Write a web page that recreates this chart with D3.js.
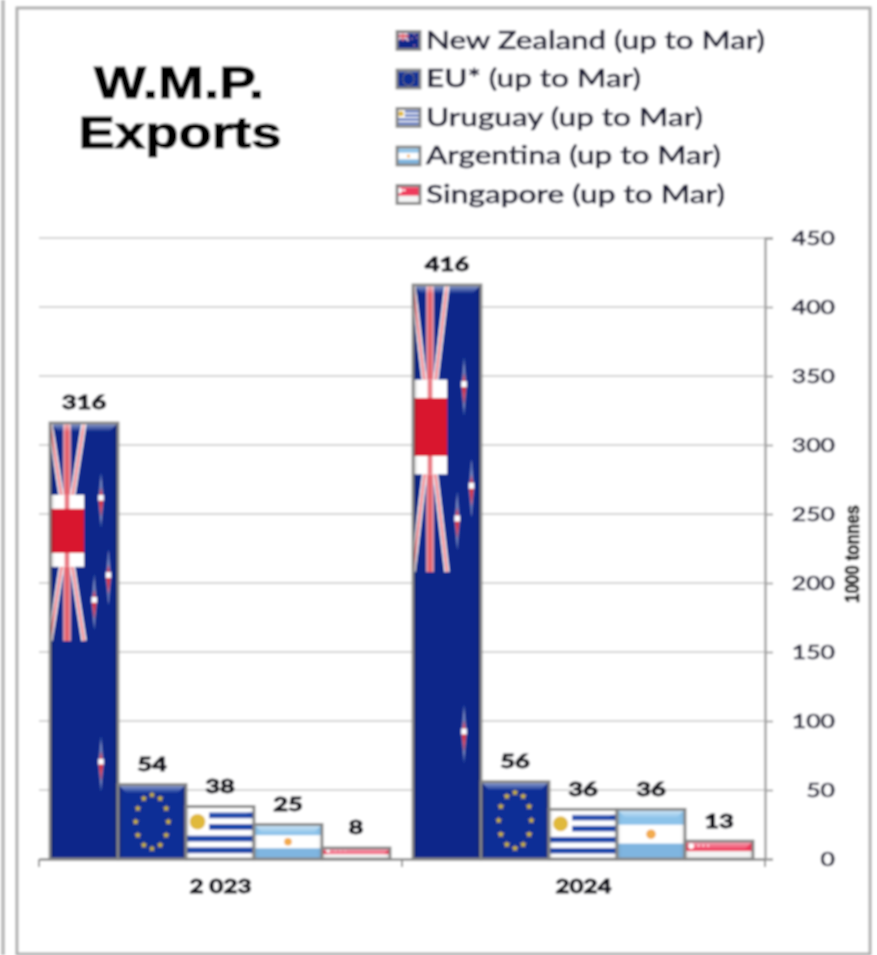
<!DOCTYPE html>
<html><head><meta charset="utf-8">
<script src="https://cdn.jsdelivr.net/npm/d3@7"></script>
<style>html,body{margin:0;padding:0;background:#fff}svg{display:block}text{font-family:Lato,"Noto Sans",sans-serif}</style>
</head><body>
<svg id="c" width="877" height="955"></svg>
<script>
const years = ["2 023", "2024"];
const countries = ["New Zealand", "EU*", "Uruguay", "Argentina", "Singapore"];
const flagKeys = ["nz", "eu", "uy", "ar", "sg"];
const values2023 = [316, 54, 38, 25, 8];
const values2024 = [416, 56, 36, 36, 13];
const yTicks = [0, 50, 100, 150, 200, 250, 300, 350, 400, 450];
const legendSuffix = " (up to Mar)";
const legendWidths = [339, 215, 277, 295, 299];
const series = [values2023, values2024];

const svg = d3.select("#c");
const defs = svg.append("defs");
defs.append("filter").attr("id", "soft").attr("x", "-2%").attr("y", "-2%").attr("width", "104%").attr("height", "104%")
  .append("feGaussianBlur").attr("stdDeviation", 0.9);
const lg = defs.append("linearGradient").attr("id", "edge");
[[0, "#000", .3], [.07, "#000", .0], [.93, "#000", 0], [1, "#000", .3]].forEach(s =>
  lg.append("stop").attr("offset", s[0]).attr("stop-color", s[1]).attr("stop-opacity", s[2]));
const tg = defs.append("linearGradient").attr("id", "topb").attr("x1", 0).attr("x2", 0).attr("y1", 0).attr("y2", 1);
[[0, .6], [1, .08]].forEach(s => tg.append("stop").attr("offset", s[0]).attr("stop-color", "#fff").attr("stop-opacity", s[1]));

const root = svg.append("g").attr("filter", "url(#soft)");

// frame
root.append("rect").attr("x", 17).attr("y", 8).attr("width", 853).attr("height", 946)
  .attr("fill", "#fff").attr("stroke", "#b0b0b0").attr("stroke-width", 3);
root.append("line").attr("x1", 3).attr("x2", 3).attr("y1", 0).attr("y2", 955).attr("stroke", "#b8b8b8").attr("stroke-width", 3.5);

const plotLeft = 39, plotRight = 765, plotTop = 238, plotBottom = 859;
const y = d3.scaleLinear().domain([0, 450]).range([plotBottom, plotTop]);
const x0 = d3.scaleBand().domain(years).range([plotLeft, plotRight]);
const x1 = d3.scaleBand().domain(countries).range([11, 351]);

const fit = (sel, w) => sel.attr("textLength", w).attr("lengthAdjust", "spacingAndGlyphs");

// gridlines
root.append("g").selectAll("line").data(yTicks.filter(d => d > 0)).join("line")
  .attr("x1", plotLeft).attr("x2", plotRight).attr("y1", y).attr("y2", y)
  .attr("stroke", "#d4d4d4").attr("stroke-width", 2);

// flags
function star(g, cx, cy, size, fill) {
  g.append("path").attr("transform", `translate(${cx},${cy})`)
    .attr("d", d3.symbol(d3.symbolStar, size)()).attr("fill", fill);
}
function nzStar(g, cx, cy, w, h) {
  const hw = Math.max(w * .04, .8), hh = Math.min(h * .065, 30);
  g.append("path").attr("d", `M${cx},${cy - hh}L${cx + hw},${cy}L${cx},${cy + hh}L${cx - hw},${cy}Z`)
    .attr("fill", "#b9c2e0").attr("opacity", .6);
  g.append("path").attr("d", `M${cx},${cy - hh * .45}L${cx + hw * .8},${cy}L${cx},${cy + hh * .6}L${cx - hw * .8},${cy}Z`)
    .attr("fill", "#d8323f");
  g.append("rect").attr("x", cx - hw).attr("y", cy - hh * .18).attr("width", 2 * hw).attr("height", hh * .2).attr("fill", "#fff");
}
const flags = {
  nz(g, w, h) {
    g.append("rect").attr("width", w).attr("height", h).attr("fill", "#07278a");
    const uw = w * .5, uh = h * .5;
    [[0, 0, uw * .5, uh * .5], [uw, 0, uw * .5, uh * .5], [0, uh, uw * .5, uh * .5], [uw, uh, uw * .5, uh * .5]].forEach(d => {
      g.append("line").attr("x1", d[0]).attr("y1", d[1]).attr("x2", d[2]).attr("y2", d[3]).attr("stroke", "#fff").attr("stroke-width", w * .075);
      g.append("line").attr("x1", d[0]).attr("y1", d[1]).attr("x2", d[2]).attr("y2", d[3]).attr("stroke", "#ea5a68").attr("stroke-width", w * .03);
    });
    g.append("rect").attr("x", uw * .5 - w * .055).attr("width", w * .11).attr("height", uh).attr("fill", "#f3b7be");
    g.append("rect").attr("x", uw * .5 - w * .035).attr("width", w * .07).attr("height", uh).attr("fill", "#e4606c");
    g.append("rect").attr("y", h * .165).attr("width", uw).attr("height", h * .165).attr("fill", "#fff");
    g.append("rect").attr("x", uw * .5 - w * .035).attr("y", h * .165).attr("width", w * .07).attr("height", h * .165).attr("fill", "#ea7a85");
    g.append("rect").attr("y", h * .197).attr("width", uw).attr("height", h * .101).attr("fill", "#d9162e");
    [[.75, .177], [.86, .354], [.65, .411], [.75, .782]].forEach(s => nzStar(g, s[0] * w, s[1] * h, w, h));
  },
  eu(g, w, h) {
    g.append("rect").attr("width", w).attr("height", h).attr("fill", "#0b2f96");
    d3.range(12).forEach(i => {
      const a = i / 12 * 2 * Math.PI;
      star(g, w / 2 + Math.sin(a) * w * .24, h / 2 - Math.cos(a) * h * .36, Math.max(w * h * .0032, .5), "#d4b832");
    });
  },
  uy(g, w, h) {
    g.append("rect").attr("width", w).attr("height", h).attr("fill", "#fff");
    [1, 3, 5, 7].forEach(i => g.append("rect")
      .attr("x", i < 5 ? w * .34 : 0).attr("y", h * i / 9).attr("width", i < 5 ? w * .66 : w).attr("height", h / 9).attr("fill", "#1f48ac"));
    g.append("circle").attr("cx", w * .17).attr("cy", h * .29).attr("r", Math.min(w * .115, h * .15)).attr("fill", "#e0b93a");
  },
  ar(g, w, h) {
    g.append("rect").attr("width", w).attr("height", h).attr("fill", "#fff");
    g.append("rect").attr("width", w).attr("height", h * .31).attr("fill", "#8cc3ea");
    g.append("rect").attr("y", h * .69).attr("width", w).attr("height", h * .31).attr("fill", "#7fb5e0");
    g.append("circle").attr("cx", w * .5).attr("cy", h * .5).attr("r", Math.min(w * .07, h * .11)).attr("fill", "#f2ab4e");
  },
  sg(g, w, h) {
    g.append("rect").attr("width", w).attr("height", h).attr("fill", "#f4f4f4");
    g.append("rect").attr("width", w).attr("height", h * .56).attr("fill", "#ef3a5c");
    g.append("circle").attr("cx", w * .09).attr("cy", h * .28).attr("r", h * .16).attr("fill", "#fff");
    [.2, .27, .34].forEach(f => g.append("circle").attr("cx", w * f).attr("cy", h * .26).attr("r", h * .05).attr("fill", "#fff"));
  }
};
function flagBox(parent, key, bx, by, w, h, id, bevel) {
  const g = parent.append("g").attr("transform", `translate(${bx},${by})`);
  defs.append("clipPath").attr("id", id).append("rect").attr("width", w).attr("height", h);
  const inner = g.append("g").attr("clip-path", `url(#${id})`);
  flags[key](inner, w, h);
  inner.append("rect").attr("width", w).attr("height", h).attr("fill", "url(#edge)").attr("opacity", key === "nz" || key === "eu" ? 1 : .35);
  inner.append("path").attr("d", `M0,0H${w}L${w - bevel},${bevel}H${bevel}Z`).attr("fill", "url(#topb)");
  g.append("rect").attr("width", w).attr("height", h).attr("fill", "none").attr("stroke", "#858585").attr("stroke-width", 2.8);
}

// bars
years.forEach((yr, yi) => {
  const grp = root.append("g").attr("transform", `translate(${x0(yr)},0)`);
  const rows = countries.map((c, i) => ({ c, i, v: series[yi][i] }));
  rows.forEach(r => {
    flagBox(grp, flagKeys[r.i], x1(r.c), y(r.v), x1.bandwidth(), y(0) - y(r.v), `f${yi}${r.i}`, 8);
  });
  grp.selectAll("text").data(rows).join("text")
    .attr("x", d => x1(d.c) + x1.bandwidth() / 2).attr("y", d => y(d.v) - 13.5)
    .attr("text-anchor", "middle").attr("font-weight", 900).attr("font-size", 19).attr("fill", "#0e0e18")
    .attr("stroke", "#0e0e18").attr("stroke-width", .8)
    .text(d => d.v).attr("lengthAdjust", "spacingAndGlyphs")
    .attr("textLength", d => String(d.v).length * 14.8);
});

// y axis
const yAxis = root.append("g").attr("transform", `translate(${plotRight},0)`)
  .call(d3.axisRight(y).tickValues(yTicks).tickSize(8).tickPadding(0).tickFormat(d3.format("d")));
yAxis.select(".domain").attr("stroke", "#a0a0a0").attr("stroke-width", 2.4);
yAxis.selectAll(".tick line").attr("stroke", "#a0a0a0").attr("stroke-width", 1.8);
yAxis.selectAll(".tick text").attr("x", 70).attr("text-anchor", "end").attr("dy", ".35em").attr("font-size", 19)
  .attr("font-family", "Lato").attr("font-weight", 500).attr("fill", "#1c1c34")
  .attr("stroke", "#1c1c34").attr("stroke-width", .55)
  .attr("textLength", d => String(d).length * 14.4).attr("lengthAdjust", "spacingAndGlyphs");

// x axis
const xAxis = root.append("g").attr("transform", `translate(0,${plotBottom})`)
  .call(d3.axisBottom(x0).tickSize(0).tickPadding(21));
xAxis.select(".domain").attr("stroke", "#8a8a8a").attr("stroke-width", 2.4);
xAxis.selectAll(".tick text").attr("font-size", 19).attr("font-family", "Lato").attr("font-weight", 900).attr("fill", "#0e0e18")
  .attr("stroke", "#0e0e18").attr("stroke-width", .8)
  .attr("textLength", d => d === "2024" ? 56 : 62).attr("lengthAdjust", "spacingAndGlyphs");
root.append("g").selectAll("line").data([...years.map(d => x0(d)), plotRight]).join("line")
  .attr("x1", d => d).attr("x2", d => d).attr("y1", plotBottom).attr("y2", plotBottom + 8)
  .attr("stroke", "#8a8a8a").attr("stroke-width", 1.8);

// y axis title
root.append("text").attr("transform", "translate(859,554) rotate(-90)").attr("text-anchor", "middle")
  .attr("font-size", 20).attr("font-weight", 700).style("font-family", "'Liberation Sans Narrow','Liberation Sans'")
  .attr("fill", "#000").attr("stroke", "#000").attr("stroke-width", .6).text("1000 tonnes").call(fit, 98);

// title
const title = root.append("g").attr("text-anchor", "middle").attr("font-weight", 700).attr("fill", "#000")
  .attr("stroke", "#000").attr("stroke-width", 1);
title.append("text").attr("x", 179).attr("y", 98).attr("font-size", 45).style("font-family", "'Liberation Sans'").text("W.M.P.").call(fit, 170);
title.append("text").attr("x", 180).attr("y", 148).attr("font-size", 45).style("font-family", "'Liberation Sans'").text("Exports").call(fit, 203);

// legend
const legendY = d3.scalePoint().domain(countries).range([40, 194]);
const leg = root.append("g");
countries.forEach((c, i) => {
  const yy = legendY(c);
  flagBox(leg, flagKeys[i], 397, yy - 8.5, 23, 18, `l${i}`, 3);
  leg.append("text").attr("x", 426).attr("y", yy + 8.5).attr("font-size", 24).attr("font-weight", 500)
    .attr("fill", "#1c1c34").attr("stroke", "#1c1c34").attr("stroke-width", .55)
    .text(c + legendSuffix).call(fit, legendWidths[i]);
});
</script>
</body></html>
